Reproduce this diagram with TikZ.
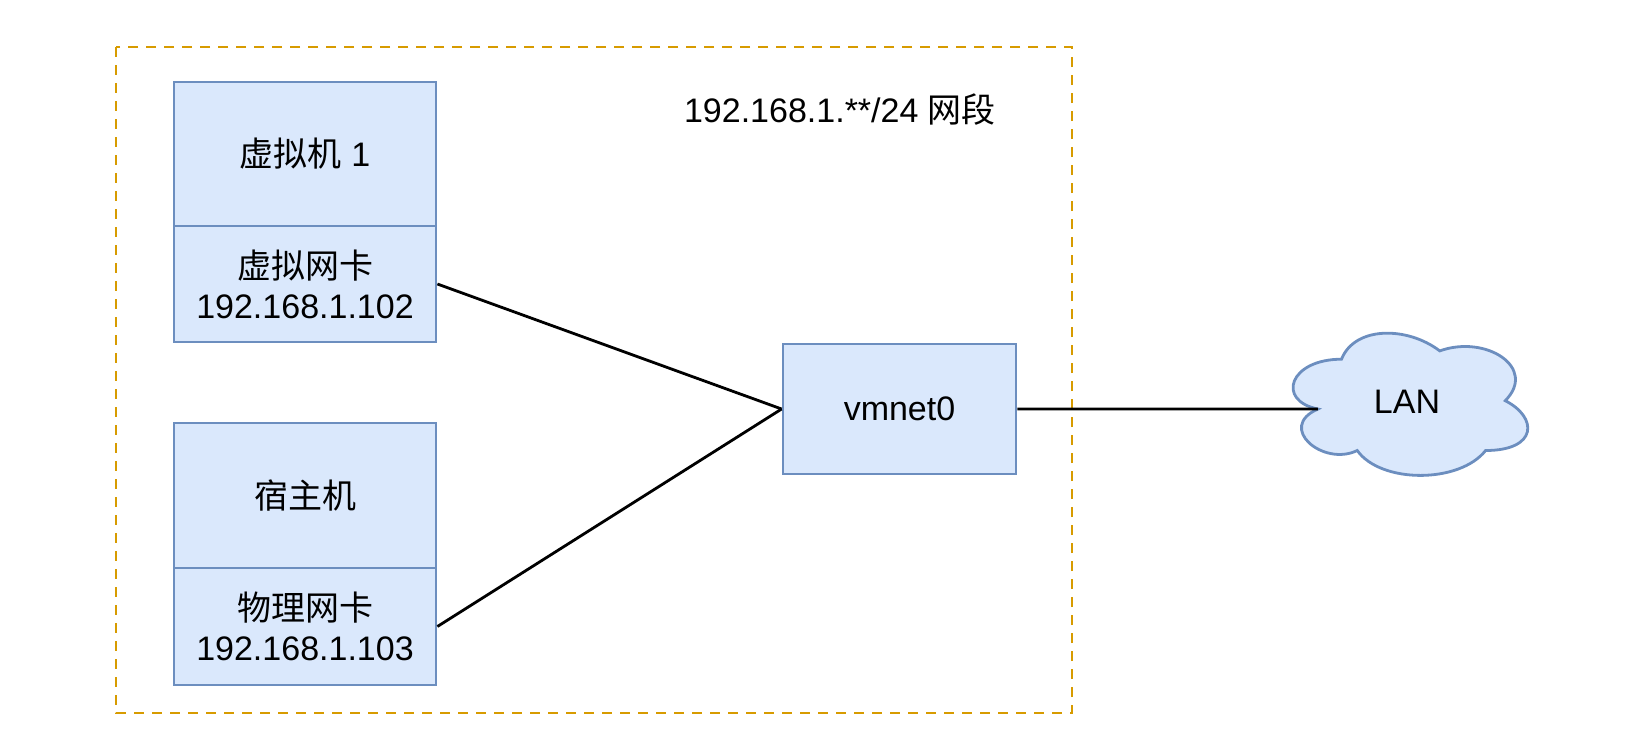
\documentclass[tikz,border=0pt]{standalone}
\usepackage{fontspec}
\setmainfont{Liberation Sans}
\newfontfamily\cjk{Noto Sans CJK SC}
\definecolor{boxfill}{HTML}{DAE8FC}
\definecolor{boxline}{HTML}{6C8EBF}
\definecolor{zone}{HTML}{D79B00}
\begin{document}
\begin{tikzpicture}[x=1pt,y=-1pt,
  part/.style={draw=boxline,fill=boxfill,line width=2.8pt,inner sep=0pt,
    minimum width=262pt,align=center,font=\fontsize{34}{40}\selectfont},
  link/.style={draw=black,line width=2.8pt},
  txt/.style={font=\fontsize{34}{40}\selectfont,inner sep=0pt}]
\useasboundingbox (0,0) rectangle (1632,748);
% network zone
\draw[zone,line width=2.8pt,dash pattern=on 10pt off 8pt] (116,47) rectangle (1072,713);
\node[txt] (seg) at (840,110) {192.168.1.**/24 {\cjk 网段}};
% VM 1
\node[part,minimum height=144pt] (vm) at (305,154) {{\cjk 虚拟机} 1};
\node[part,minimum height=116pt] (vnic) at (305,284) {{\cjk 虚拟网卡}\\192.168.1.102};
% host
\node[part,minimum height=145pt] (host) at (305,495.5) {{\cjk 宿主机}};
\node[part,minimum height=117pt] (pnic) at (305,626.5) {{\cjk 物理网卡}\\192.168.1.103};
% vmnet0
\node[part,minimum width=233pt,minimum height=130pt] (vmnet) at (899.5,409) {vmnet0};
% cloud
\def\cx{1276}\def\cy{317.7}\def\cw{262}\def\ch{166}
\draw[draw=boxline,fill=boxfill,line width=2.8pt]
  ({\cx+0.25*\cw},{\cy+0.25*\ch})
  .. controls ({\cx+0.05*\cw},{\cy+0.25*\ch}) and ({\cx},{\cy+0.5*\ch}) .. ({\cx+0.16*\cw},{\cy+0.55*\ch})
  .. controls ({\cx},{\cy+0.66*\ch}) and ({\cx+0.18*\cw},{\cy+0.9*\ch}) .. ({\cx+0.31*\cw},{\cy+0.8*\ch})
  .. controls ({\cx+0.4*\cw},{\cy+\ch}) and ({\cx+0.7*\cw},{\cy+\ch}) .. ({\cx+0.8*\cw},{\cy+0.8*\ch})
  .. controls ({\cx+\cw},{\cy+0.8*\ch}) and ({\cx+\cw},{\cy+0.6*\ch}) .. ({\cx+0.875*\cw},{\cy+0.5*\ch})
  .. controls ({\cx+\cw},{\cy+0.3*\ch}) and ({\cx+0.8*\cw},{\cy+0.1*\ch}) .. ({\cx+0.625*\cw},{\cy+0.2*\ch})
  .. controls ({\cx+0.5*\cw},{\cy+0.05*\ch}) and ({\cx+0.3*\cw},{\cy+0.05*\ch}) .. ({\cx+0.25*\cw},{\cy+0.25*\ch})
  -- cycle;
\coordinate (lanin) at ({\cx+0.16*\cw},{\cy+0.55*\ch});
\node[txt] (lan) at (1407,402) {LAN};
% connectors
\draw[link] (vnic.east) -- (vmnet.west);
\draw[link] (pnic.east) -- (vmnet.west);
\draw[link] (vmnet.east) -- (lanin);
\end{tikzpicture}
\end{document}
